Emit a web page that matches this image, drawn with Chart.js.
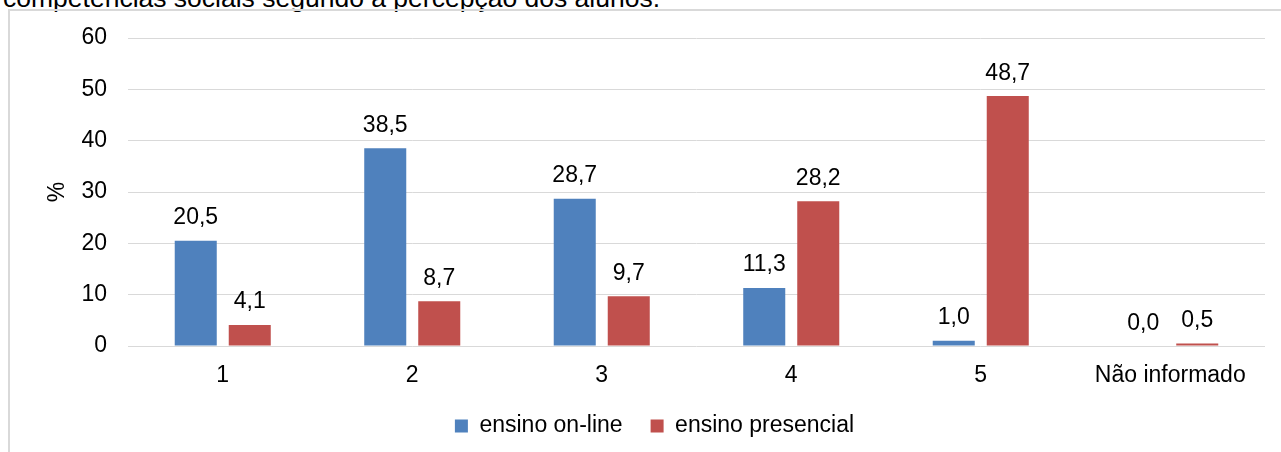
<!DOCTYPE html>
<html lang="pt">
<head>
<meta charset="utf-8">
<title>Competências sociais segundo a percepção dos alunos</title>
<script src="https://cdn.jsdelivr.net/npm/chart.js@4.4.1/dist/chart.umd.min.js"></script>
<style>
  html, body { margin: 0; padding: 0; background: #fff; overflow: hidden; }
  #page { position: relative; width: 1281px; height: 452px; }
  #caption {
    position: absolute; left: 3px; top: -15.4px;
    font: 26.5px "Liberation Sans", Arial, sans-serif; line-height: 26.5px;
    color: #000; white-space: nowrap;
  }
  #frame {
    position: absolute; left: 8px; top: 9px; right: -4px; bottom: -4px;
    border-left: 2px solid #d9d9d9; border-top: 2px solid #d9d9d9;
  }
  #wrap { position: absolute; left: 0; top: 0; width: 1281px; height: 452px; }
</style>
</head>
<body>
<div id="page">
  <div id="caption">competências sociais segundo a percepção dos alunos.</div>
  <div id="frame"></div>
  <div id="wrap"><canvas id="chart"></canvas></div>
</div>
<script>
// Respostas por nível da escala (%)
const categories = ['1', '2', '3', '4', '5', 'Não informado'];
const onlineValues = [20.5, 38.5, 28.7, 11.3, 1.0, 0.0];
const presencialValues = [4.1, 8.7, 9.7, 28.2, 48.7, 0.5];
const seriesNames = ['ensino on-line', 'ensino presencial'];
const yTicks = [0, 10, 20, 30, 40, 50, 60];

const FONT = '"Liberation Sans", Arial, sans-serif';
const fmt = v => v.toFixed(1).replace('.', ',');

// Rótulos de valor acima de cada barra
const valueLabels = {
  id: 'valueLabels',
  afterDatasetsDraw(chart) {
    const ctx = chart.ctx;
    ctx.save();
    ctx.font = '23px ' + FONT;
    ctx.fillStyle = '#000';
    ctx.textAlign = 'center';
    ctx.textBaseline = 'alphabetic';
    chart.data.datasets.forEach((ds, i) => {
      chart.getDatasetMeta(i).data.forEach((bar, j) => {
        ctx.fillText(fmt(ds.data[j]), bar.x, bar.y - 16.5);
      });
    });
    ctx.restore();
  }
};

new Chart(document.getElementById('chart'), {
  type: 'bar',
  data: {
    labels: categories,
    datasets: [
      { label: seriesNames[0], data: onlineValues, backgroundColor: '#4f81bd' },
      { label: seriesNames[1], data: presencialValues, backgroundColor: '#c0504d' }
    ]
  },
  options: {
    responsive: true,
    maintainAspectRatio: false,
    animation: false,
    events: [],
    categoryPercentage: 0.57,
    barPercentage: 0.778,
    layout: { padding: { top: 38, left: 44, right: 16, bottom: 4.5 } },
    plugins: {
      tooltip: { enabled: false },
      legend: {
        position: 'bottom',
        labels: {
          font: { family: FONT, size: 23 },
          color: '#000',
          boxWidth: 13,
          boxHeight: 13,
          padding: 28
        }
      }
    },
    scales: {
      x: {
        grid: { display: false },
        border: { display: false },
        ticks: { font: { family: FONT, size: 23 }, color: '#000', padding: 8, maxRotation: 0 },
        afterFit(s) { s.height = 40.5; }
      },
      y: {
        min: 0,
        max: 60,
        afterBuildTicks(s) { s.ticks = yTicks.map(v => ({ value: v })); },
        grid: { color: '#d9d9d9', lineWidth: 1, drawTicks: false },
        border: { display: false },
        ticks: { font: { family: FONT, size: 23 }, color: '#000', padding: 21 },
        title: {
          display: true,
          text: '%',
          font: { family: FONT, size: 23 },
          color: '#000',
          padding: { top: 0.2, bottom: 0 }
        },
        afterFit(s) { s.width = 84; }
      }
    }
  },
  plugins: [valueLabels]
});
</script>
</body>
</html>
